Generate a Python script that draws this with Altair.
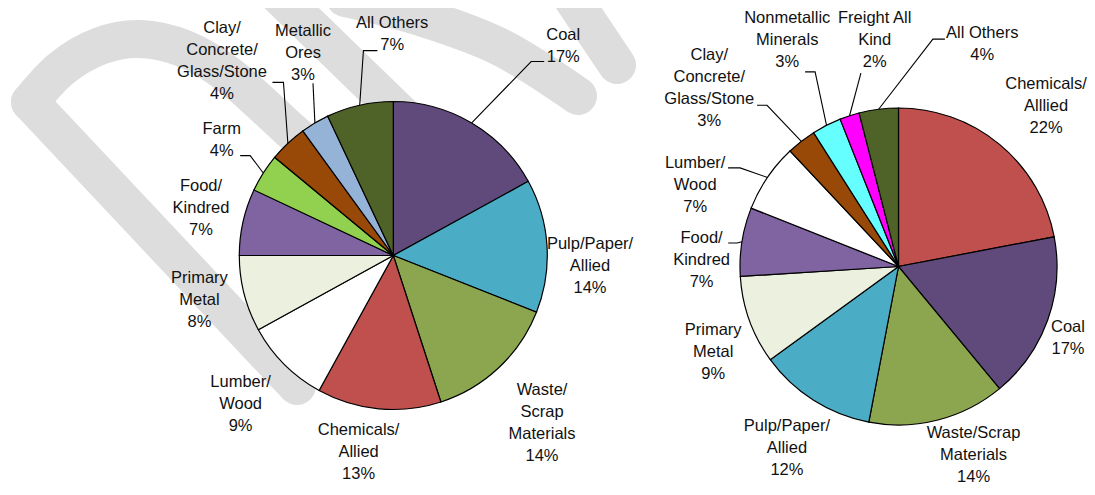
import math
import altair as alt
import pandas as pd

# ---------------- data ----------------
left_categories = ["Coal", "Pulp/Paper/Allied", "Waste/Scrap Materials", "Chemicals/Allied",
                   "Lumber/Wood", "Primary Metal", "Food/Kindred", "Farm",
                   "Clay/Concrete/Glass/Stone", "Metallic Ores", "All Others"]
left_values = [17, 14, 14, 13, 9, 8, 7, 4, 4, 3, 7]
left_labels = ["Coal", "Pulp/Paper/\nAllied", "Waste/\nScrap\nMaterials", "Chemicals/\nAllied",
               "Lumber/\nWood", "Primary\nMetal", "Food/\nKindred", "Farm",
               "Clay/\nConcrete/\nGlass/Stone", "Metallic\nOres", "All Others"]

right_categories = ["Chemicals/Allied", "Coal", "Waste/Scrap Materials", "Pulp/Paper/Allied",
                    "Primary Metal", "Food/Kindred", "Lumber/Wood", "Clay/Concrete/Glass/Stone",
                    "Nonmetallic Minerals", "Freight All Kind", "All Others"]
right_values = [22, 17, 14, 12, 9, 7, 7, 3, 3, 2, 4]
right_labels = ["Chemicals/\nAlllied", "Coal", "Waste/Scrap\nMaterials", "Pulp/Paper/\nAllied",
                "Primary\nMetal", "Food/\nKindred", "Lumber/\nWood", "Clay/\nConcrete/\nGlass/Stone",
                "Nonmetallic\nMinerals", "Freight All\nKind", "All Others"]

palette_categories = ["Coal", "Pulp/Paper/Allied", "Waste/Scrap Materials", "Chemicals/Allied",
                      "Lumber/Wood", "Primary Metal", "Food/Kindred", "Farm",
                      "Clay/Concrete/Glass/Stone", "Metallic Ores", "All Others",
                      "Nonmetallic Minerals", "Freight All Kind"]
palette_colors = ["#604A7B", "#4BACC6", "#8BA64F", "#C0504D",
                  "#FFFFFF", "#EBF1DE", "#8064A2", "#92D050",
                  "#984807", "#95B3D7", "#4F6228",
                  "#66FFFF", "#FF00FF"]

# ---------------- layout (page pixels) ----------------
W, H = 1079, 479
LINE_H = 22
left_center, left_radius = (393.3, 255.5), 154
right_center, right_radius = (898.5, 266.5), 158.5

# label placement: angle (deg clockwise from top) and distance from pie centre
left_label_angle = [39, 93, 138.4, 190, 225.8, 257, 283.8, 304, 318.6, 336, 359.7]
left_label_radius = [270, 197, 224, 200, 213, 199, 198, 207, 259, 222, 222]
right_label_angle = [42.6, 112.9, 158.3, 211.6, 245.3, 271.9, 291.8, 313.3, 333.8, 354, 20.6]
right_label_radius = [218, 184, 203, 213, 204, 197, 219, 260, 252, 228, 238]

# leader lines: slice index -> (elbow angle, elbow distance, horizontal tick)
left_leaders = {0: (35.4, 238, 13), 7: (304.9, 174.5, -10), 8: (327.6, 205, -11),
                9: (335, 190, 0), 10: (351.7, 207, 14)}
right_leaders = {5: (278.3, 163, -9), 6: (301.9, 186.6, -12), 7: (320.8, 208, -10),
                 8: (336.8, 211.7, -10), 9: (349, 197, 0), 10: (8.6, 230, 12)}

# background "draft" watermark strokes
watermark_paths = [
    [(297, 386), (30, 102)],
    [(30, 102), (62, 68), (100, 46), (140, 39), (185, 49), (230, 76), (290, 130), (330, 165)],
    [(268, -15), (410, 123)],
    [(345, -2), (420, 17), (500, 47), (578, 96)],
    [(560, -20), (617, 65)],
]


def polar(center, ang, r):
    a = math.radians(ang)
    return center[0] + r * math.sin(a), center[1] - r * math.cos(a)


def pie_frames(cats, vals, labels, center, radius, l_ang, l_rad, leaders, pie_id):
    total = float(sum(vals))
    slices = pd.DataFrame({"category": cats, "value": vals, "idx": list(range(len(cats)))})
    txt_rows, lead_rows = [], []
    cum = 0.0
    for i, (c, v, lab) in enumerate(zip(cats, vals, labels)):
        mid = (cum + v / 2.0) / total * 360.0
        cum += v
        text = f"{lab}\n{v}%"
        n_lines = text.count("\n") + 1
        lx, ly = polar(center, l_ang[i], l_rad[i])
        txt_rows.append({"x": lx, "y": ly - (n_lines - 1) * LINE_H / 2.0, "text": text})
        if i in leaders:
            ea, er, tick = leaders[i]
            sx, sy = polar(center, mid, radius)
            ex, ey = polar(center, ea, er)
            g = f"{pie_id}-{i}"
            lead_rows.append({"x": sx, "y": sy, "g": g, "o": 0})
            lead_rows.append({"x": ex, "y": ey, "g": g, "o": 1})
            if tick:
                lead_rows.append({"x": ex + tick, "y": ey, "g": g, "o": 2})
    return slices, pd.DataFrame(txt_rows), pd.DataFrame(lead_rows)


ls, lt, ll = pie_frames(left_categories, left_values, left_labels, left_center, left_radius,
                        left_label_angle, left_label_radius, left_leaders, "L")
rs, rt, rl = pie_frames(right_categories, right_values, right_labels, right_center, right_radius,
                        right_label_angle, right_label_radius, right_leaders, "R")

xs = alt.Scale(domain=[8, 8 + W], nice=False, zero=False)
ys = alt.Scale(domain=[8 + H, 8], nice=False, zero=False)
cs = alt.Scale(domain=palette_categories, range=palette_colors)

wm_rows = []
for k, path in enumerate(watermark_paths):
    for j, (px, py) in enumerate(path):
        wm_rows.append({"x": px, "y": py, "g": k, "o": j})
wm = alt.Chart(pd.DataFrame(wm_rows)).mark_line(
    color="#DDDDDD", strokeWidth=38, strokeCap="round", strokeJoin="round", interpolate="cardinal"
).encode(
    x=alt.X("x:Q", scale=xs, axis=None),
    y=alt.Y("y:Q", scale=ys, axis=None),
    detail="g:N",
    order="o:Q",
)


def pie_layer(df, center, radius):
    return alt.Chart(df).mark_arc(
        outerRadius=radius, stroke="black", strokeWidth=1.2
    ).encode(
        x=alt.X(datum=center[0], type="quantitative", scale=xs, axis=None),
        y=alt.Y(datum=center[1], type="quantitative", scale=ys, axis=None),
        theta=alt.Theta("value:Q", stack=True),
        color=alt.Color("category:N", scale=cs, legend=None),
        order=alt.Order("idx:Q", sort="ascending"),
    )


def lead_layer(df):
    return alt.Chart(df).mark_line(color="black", strokeWidth=1.1).encode(
        x=alt.X("x:Q", scale=xs, axis=None),
        y=alt.Y("y:Q", scale=ys, axis=None),
        detail="g:N",
        order="o:Q",
    )


def text_layer(df):
    return alt.Chart(df).mark_text(
        font="Liberation Sans, Arial, sans-serif",
        fontSize=16.5, lineHeight=LINE_H, align="center", baseline="middle",
        color="#111111", lineBreak="\n",
    ).encode(
        x=alt.X("x:Q", scale=xs, axis=None),
        y=alt.Y("y:Q", scale=ys, axis=None),
        text="text:N",
    )


chart = alt.layer(
    wm,
    pie_layer(ls, left_center, left_radius),
    pie_layer(rs, right_center, right_radius),
    lead_layer(ll),
    lead_layer(rl),
    text_layer(lt),
    text_layer(rt),
).properties(
    width=W, height=H, padding=0,
    autosize=alt.AutoSizeParams(type="none"),
).configure(
    background="white",
    view=alt.ViewConfig(strokeWidth=0),
)

chart.save("out.html", embed_options={"renderer": "svg", "actions": False})
